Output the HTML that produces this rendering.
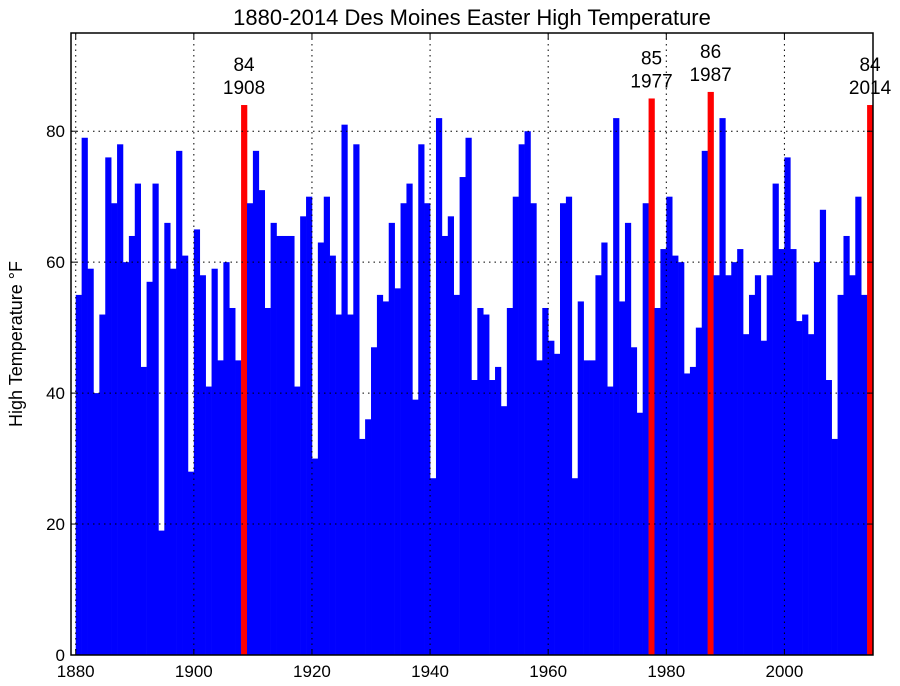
<!DOCTYPE html>
<html><head><meta charset="utf-8"><style>
html,body{margin:0;padding:0;background:#fff;}
svg{display:block;font-family:"Liberation Sans","DejaVu Sans",sans-serif;}
</style></head><body>
<svg id="chart" width="900" height="686" viewBox="0 0 900 686" xmlns="http://www.w3.org/2000/svg">
<text x="472" y="25" font-size="22" text-anchor="middle" fill="#000">1880-2014 Des Moines Easter High Temperature</text>
<text transform="translate(22,344) rotate(-90)" font-size="18" text-anchor="middle" fill="#000">High Temperature °F</text>
<g id="bars"></g>
<g id="grid"></g>
<g id="ann"></g>
<rect x="71" y="33" width="802" height="622" fill="none" stroke="#000" stroke-width="1.5"/>
<g id="ticks"></g>
</svg>
<script>
const startYear = 1880;
const temps = [55,79,59,40,52,76,69,78,60,64,72,44,57,72,19,66,59,77,61,28,
65,58,41,59,45,60,53,45,84,69,77,71,53,66,64,64,64,41,67,70,
30,63,70,61,52,81,52,78,33,36,47,55,54,66,56,69,72,39,78,69,
27,82,64,67,55,73,79,42,53,52,42,44,38,53,70,78,80,69,45,53,
48,46,69,70,27,54,45,45,58,63,41,82,54,66,47,37,69,85,53,62,
70,61,60,43,44,50,77,86,58,82,58,60,62,49,55,58,48,58,72,62,
76,62,51,52,49,60,68,42,33,55,64,58,70,55,84];
const highlightYears = [1908,1977,1987,2014];
const xTicks = [1880,1900,1920,1940,1960,1980,2000];
const yTicks = [0,20,40,60,80];

const L=71,R=873,T=33,B=655,X0=1879.2,X1=2015,Y1=95;
const sx=v=>L+(v-X0)/(X1-X0)*(R-L);
const sy=v=>B-v/Y1*(B-T);
const NS="http://www.w3.org/2000/svg";
function mk(tag,attrs,parent){const e=document.createElementNS(NS,tag);for(const k in attrs)e.setAttribute(k,attrs[k]);parent.appendChild(e);return e;}
const gb=document.getElementById('bars'),gg=document.getElementById('grid'),ga=document.getElementById('ann'),gt=document.getElementById('ticks');
temps.forEach((v,i)=>{
  const yr=startYear+i;
  const hi=highlightYears.includes(yr);
  const r=mk('rect',{x:sx(yr),y:sy(v),width:sx(yr+1)-sx(yr)+0.3,height:B-sy(v),fill:hi?'#ff0000':'#0000ff'},gb);
  
  
  if(hi){
    const cx=sx(yr+0.5);
    const t1=mk('text',{x:cx,y:sy(v)-34,'font-size':19,'text-anchor':'middle',fill:'#000'},ga);
    t1.textContent=v;
    
    
    const t2=mk('text',{x:cx,y:sy(v)-11,'font-size':19,'text-anchor':'middle',fill:'#000'},ga);
    t2.textContent=yr;
    
    
  }
});
xTicks.forEach(t=>{
  const x=sx(t);
  const l=mk('line',{x1:x,x2:x,y1:T,y2:B,stroke:'#000','stroke-width':1,'stroke-dasharray':'1.5,4'},gg);
  
  
  mk('line',{x1:x,x2:x,y1:B,y2:B-6,stroke:'#000'},gt);
  mk('line',{x1:x,x2:x,y1:T,y2:T+6,stroke:'#000'},gt);
  const tx=mk('text',{x:x,y:677,'font-size':17,'text-anchor':'middle',fill:'#000'},gt);
  tx.textContent=t;
  
  
});
yTicks.forEach(t=>{
  const y=sy(t);
  const l=mk('line',{x1:L,x2:R,y1:y,y2:y,stroke:'#000','stroke-width':1,'stroke-dasharray':'1.5,4'},gg);
  
  
  mk('line',{x1:L,x2:L+6,y1:y,y2:y,stroke:'#000'},gt);
  mk('line',{x1:R,x2:R-6,y1:y,y2:y,stroke:'#000'},gt);
  const tx=mk('text',{x:L-6,y:y+6,'font-size':17,'text-anchor':'end',fill:'#000'},gt);
  tx.textContent=t;
  
  
});
</script>
</body></html>
